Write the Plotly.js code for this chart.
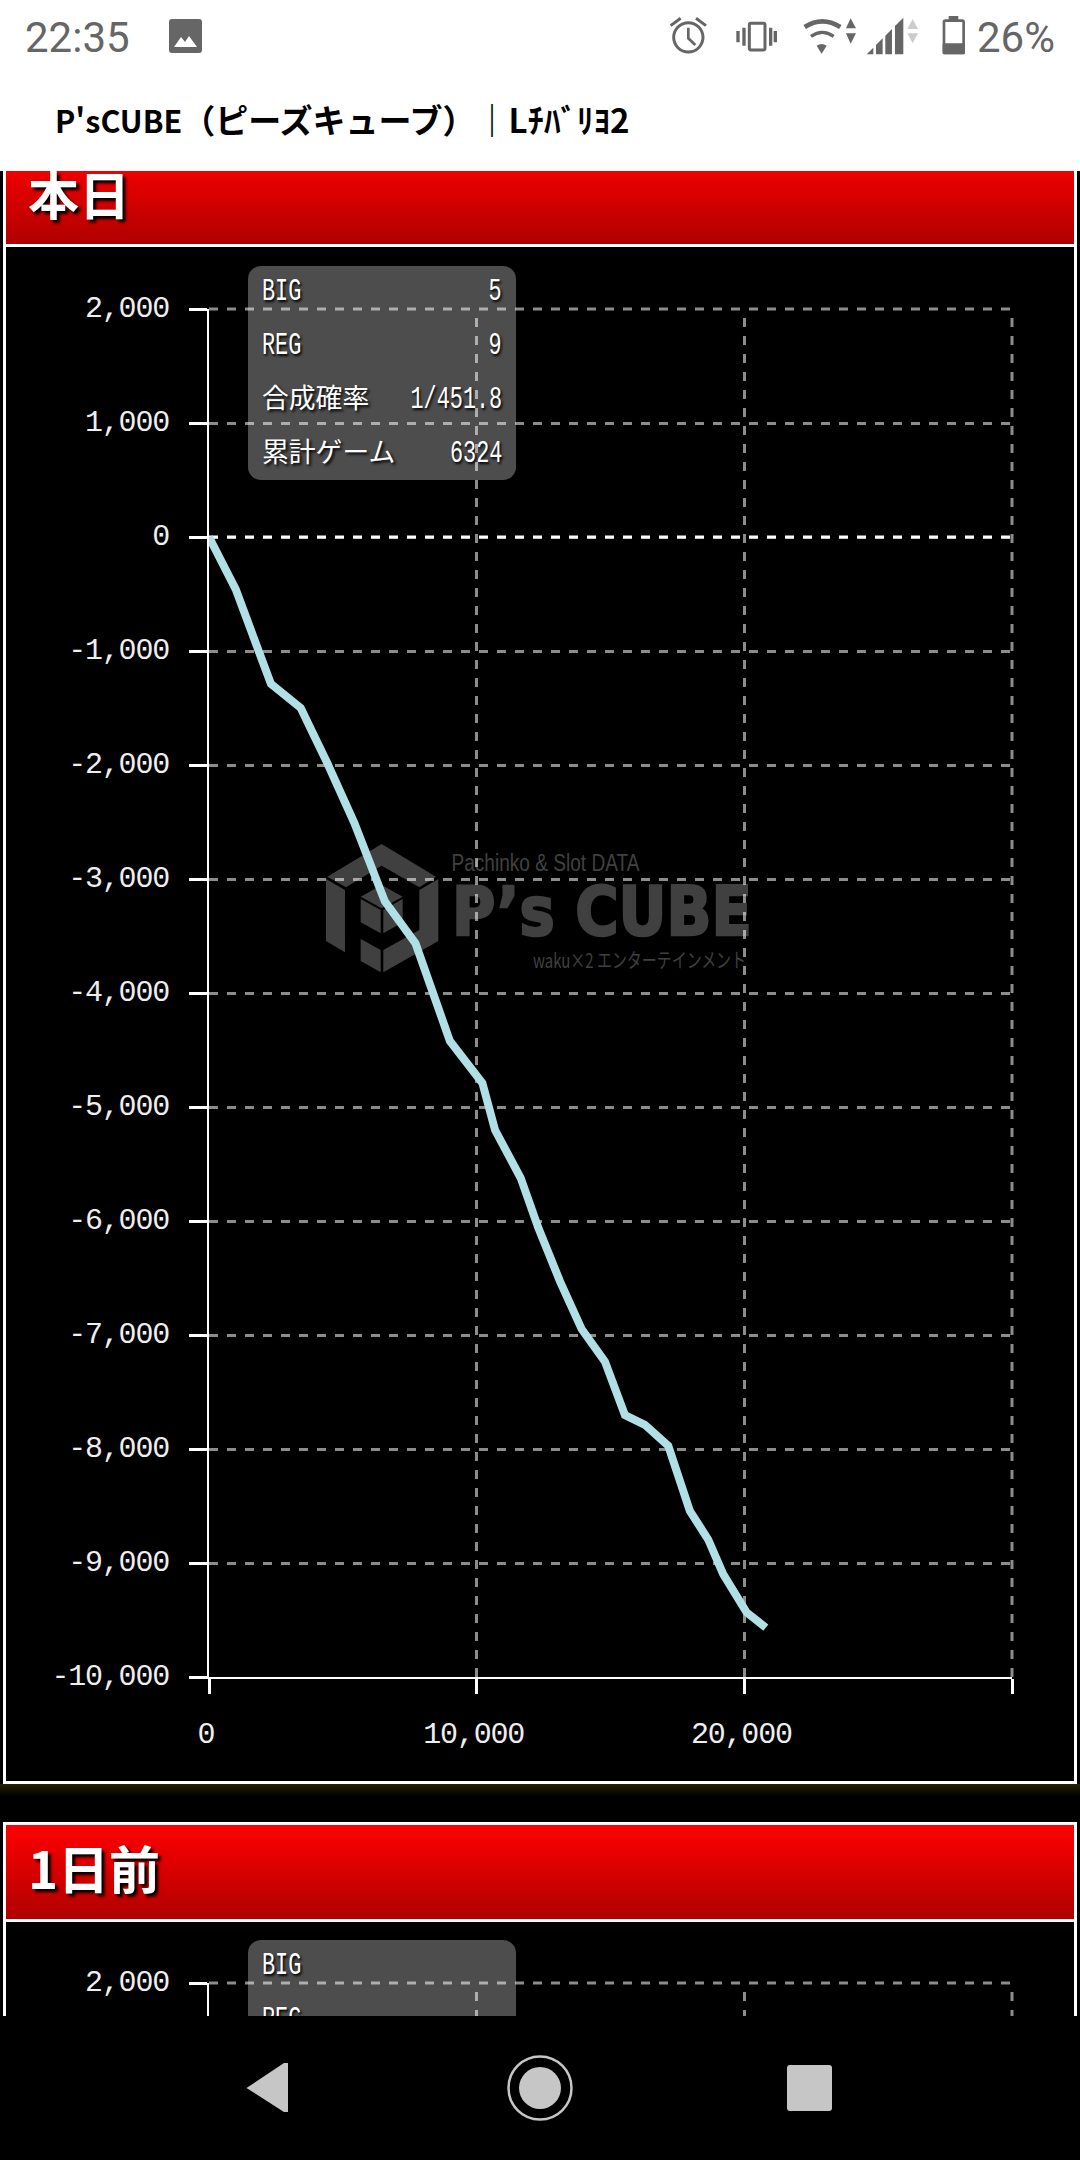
<!DOCTYPE html>
<html lang="ja">
<head>
<meta charset="utf-8">
<script src="https://cdn.plot.ly/plotly-3.0.1.min.js"></script>
<style>
html,body{margin:0;padding:0;background:#000;width:1080px;height:2160px;overflow:hidden;}
.abs{position:absolute;}
#status{left:0;top:0;width:1080px;height:171px;background:#fff;z-index:5;border-bottom:0;}
#apptitle{left:55px;top:94px;font:700 30.5px "Noto Sans CJK JP";color:#000;line-height:50px;white-space:nowrap;z-index:6;}
#apptitle .k{font-size:33px;}
.time{font-family:Roboto;font-size:42px;color:#666;line-height:48px;z-index:6;}
.hdr{left:6px;width:1068px;z-index:4;}
.hdrtxt{left:28px;color:#fff;font:700 51px "Noto Sans CJK JP";white-space:nowrap;text-shadow:3px 3px 3px #000;z-index:6;}
.wb{background:#fff;z-index:4;}
.panel{left:248px;width:268px;height:214px;background:#4d4d4d;border-radius:13px;z-index:1;}
.row{position:absolute;left:14px;right:14px;height:40px;color:#fff;text-shadow:2px 2px 3px #000;}
.lab,.val{position:absolute;top:0;line-height:40px;white-space:nowrap;}
.lab{left:0;}
.val{right:0;}
.mono{font-family:"Liberation Mono";font-size:31px;transform:scaleX(.705);top:1px;}
.lab.mono{transform-origin:left center;}
.val.mono{transform-origin:right center;}
.cjk{font-family:"Noto Sans CJK JP";font-size:26.8px;top:-2px;}
.plot{left:0;width:1080px;height:1800px;z-index:2;}
.plot .ytick text,.plot .xtick text{letter-spacing:-1.2px;}
#nav{left:0;top:2016px;width:1080px;height:144px;background:#000;z-index:7;}
#wm{left:0;top:0;z-index:1;}
#gap{left:0;top:1784px;width:1080px;height:38px;background:linear-gradient(#262200,#000 12px);z-index:3;}
</style>
</head>
<body>
<div class="abs" id="status"></div>
<div class="abs time" style="left:25px;top:14px;z-index:6">22:35</div>
<div class="abs time" style="left:977px;top:14px;z-index:6">26%</div>
<div class="abs" id="apptitle">P'sCUBE<span class="k">（ピーズキューブ）｜Lﾁﾊﾞﾘﾖ2</span></div>
<svg class="abs" style="left:0;top:0;z-index:6" width="1080" height="70">
  <rect x="169" y="19" width="33" height="34" rx="3" fill="#666"/>
  <polygon points="174,47 181,37 185,42 189,36 197,47" fill="#fff"/>
  <g transform="translate(660,5) scale(.3333)" fill="#666" stroke="none">
    <g fill="none" stroke="#666">
      <circle cx="85" cy="97" r="44" stroke-width="9"/>
      <path d="M32 62L62 40M138 62L108 40" stroke-width="9"/>
      <path d="M85 68V100L106 120" stroke-width="8"/>
      <rect x="268" y="55" width="47" height="80" rx="5" stroke-width="9"/>
      <path d="M234 78V112M252 68V122M346 78V112M332 68V122" stroke-width="10"/>
      <path d="M434 66Q487 32 541 66" stroke-width="14"/>
      <path d="M453 94Q487 70 521 94" stroke-width="10"/>
    </g>
    <path d="M470 122Q485 112 500 122L485 146Z"/>
    <polygon points="572,40 558,70 588,70"/><polygon points="558,85 588,85 572,116"/>
    <polygon points="620,148 640,128 640,148"/>
    <polygon points="648,120 668,100 668,148 648,148"/>
    <polygon points="676,92 696,72 696,148 676,148"/>
    <polygon points="705,63 730,38 730,148 705,148"/>
    <polygon points="758,42 742,72 774,72" fill="#ccc"/><polygon points="742,85 774,85 758,115" fill="#ccc"/>
    <rect x="866" y="33" width="29" height="14"/>
    <rect x="852" y="47" width="59" height="97" rx="4" fill="none" stroke="#666" stroke-width="8"/>
    <rect x="848" y="115" width="67" height="33" rx="4"/>
  </g>
</svg>

<!-- section 1 chrome -->
<div class="abs wb" style="left:3px;top:171px;width:3px;height:1613px"></div>
<div class="abs wb" style="left:1074px;top:171px;width:3px;height:1613px"></div>
<div class="abs hdr" style="top:171px;height:73px;background:linear-gradient(#ee0000,#b00000)"></div>
<div class="abs wb" style="left:3px;top:244px;width:1074px;height:3px"></div>
<div class="abs wb" style="left:3px;top:1781px;width:1074px;height:3px"></div>
<div class="abs hdrtxt" style="top:158px;line-height:70px;" id="t1">本日</div>
<div class="abs" id="gap"></div>

<!-- section 2 chrome -->
<div class="abs wb" style="left:3px;top:1822px;width:1074px;height:3px"></div>
<div class="abs wb" style="left:3px;top:1822px;width:3px;height:194px"></div>
<div class="abs wb" style="left:1074px;top:1822px;width:3px;height:194px"></div>
<div class="abs hdr" style="top:1825px;height:94px;background:linear-gradient(#ff0000,#b00000)"></div>
<div class="abs wb" style="left:3px;top:1919px;width:1074px;height:3px"></div>
<div class="abs hdrtxt" style="top:1832px;line-height:70px;" id="t2">1日前</div>

<svg class="abs" id="wm" width="1080" height="1100">
  <g transform="translate(320,835) scale(.33333)" fill="#404040">
    <polygon points="22,125 185,27 348,125 298,157 185,92 78,157"/>
    <polygon points="18,132 75,165 75,352 18,318"/>
    <polygon points="355,132 355,318 190,412 190,345 298,285 298,165"/>
    <polygon points="122,185 185,150 248,185 185,220"/>
    <polygon points="122,192 182,225 182,295 122,262"/>
    <polygon points="190,225 248,192 248,262 190,295"/>
    <polygon points="122,312 182,345 182,412 122,378"/>
  </g>
  <g fill="#404040">
    <text x="451.5" y="871" font-family="Liberation Sans" font-size="23" textLength="188" lengthAdjust="spacingAndGlyphs">Pachinko &amp; Slot DATA</text>
    <text x="452" y="934.5" font-family="DejaVu Sans" font-weight="700" font-size="67" stroke="#404040" stroke-width="2.5" textLength="300" lengthAdjust="spacingAndGlyphs">P’s CUBE</text>
    <text x="533" y="968" font-family="Noto Sans CJK JP" font-size="20" textLength="213" lengthAdjust="spacingAndGlyphs">waku×2 エンターテインメント</text>
  </g>
</svg>

<div class="abs panel" id="panel1" style="top:266px"></div>
<div class="abs panel" id="panel2" style="top:1940px"></div>
<div class="abs plot" id="chart1" style="top:0"></div>
<div class="abs plot" id="chart2" style="top:1674px"></div>

<div class="abs" id="nav"></div>
<svg class="abs" style="left:0;top:2016px;z-index:8" width="1080" height="144" fill="#c6c6c6">
  <polygon points="288,47 288,96 284,96 246.5,72 284,47" />
  <circle cx="540" cy="72" r="31.5" fill="none" stroke="#c6c6c6" stroke-width="2.5"/>
  <circle cx="540" cy="72" r="21"/>
  <rect x="787" y="49" width="45" height="46" rx="3"/>
</svg>

<script>
const gamesX = [0,1000,2314,3427,4427,5428,6570,7716,9000,10213,10687,11646,12303,13113,13923,14793,15540,16286,17157,17966,18650,19210,20083,20803];
const diffY = [0,-460,-1289,-1500,-1987,-2508,-3196,-3565,-4421,-4790,-5203,-5623,-6059,-6529,-6948,-7233,-7703,-7788,-7972,-8543,-8794,-9097,-9433,-9566];
const xTickVals = [0,10000,20000,30000];
const xTickText = ['0','10,000','20,000',''];
const yTickVals = [2000,1000,0,-1000,-2000,-3000,-4000,-5000,-6000,-7000,-8000,-9000,-10000];
const yTickText = ['2,000','1,000','0','-1,000','-2,000','-3,000','-4,000','-5,000','-6,000','-7,000','-8,000','-9,000','-10,000'];
const statLabels = ['BIG','REG','合成確率','累計ゲーム'];
const statValues = ['5','9','1/451.8','6324'];
const prevStatLabels = ['BIG','REG'];
const prevStatValues = ['',''];
const prevYTickVals = [2000];
const prevYTickText = ['2,000'];

function fillPanel(id, labels, values){
  const p = document.getElementById(id);
  labels.forEach((l,i)=>{
    const r = document.createElement('div'); r.className='row'; r.style.top=(5+54*i)+'px';
    const a = document.createElement('span'); a.className='lab '+(/^[A-Z]+$/.test(l)?'mono':'cjk'); a.textContent=l;
    const b = document.createElement('span'); b.className='val mono'; b.textContent=values[i];
    r.appendChild(a); r.appendChild(b); p.appendChild(r);
  });
}
fillPanel('panel1',statLabels,statValues);
fillPanel('panel2',prevStatLabels,prevStatValues);

const GRID='rgba(255,255,255,0.55)';
const DASH_H='9px,9px', DASH_V='0px,9px,9px,0px';
const tickFont={family:'"Liberation Mono"',size:30,color:'#eeeeee'};
function makeLayout(yVals,yText,showXLabels){
  return {
    width:1080,height:1800,
    margin:{l:209,r:68,t:309,b:123,pad:0},
    paper_bgcolor:'rgba(0,0,0,0)',plot_bgcolor:'rgba(0,0,0,0)',
    showlegend:false,
    xaxis:{range:[0,30000],tickmode:'array',tickvals:xTickVals,ticktext:xTickText,showticklabels:showXLabels,
      showline:true,linecolor:'#fff',linewidth:2,ticks:'outside',ticklen:15,tickwidth:3,tickcolor:'#fff',
      showgrid:true,gridcolor:GRID,gridwidth:3,griddash:DASH_V,zeroline:false,tickfont:tickFont,tickangle:0,ticklabelstandoff:13},
    yaxis:{range:[-10000,2000],tickmode:'array',tickvals:yVals,ticktext:yText,
      showline:true,linecolor:'#fff',linewidth:2,ticks:'outside',ticklen:18,tickwidth:3,tickcolor:'#fff',
      showgrid:true,gridcolor:GRID,gridwidth:3,griddash:DASH_H,zeroline:false,tickfont:tickFont,ticklabelstandoff:14},
    shapes:[
      {type:'line',xref:'x',yref:'y',x0:0,x1:30000,y0:0,y1:0,layer:'below',line:{color:'#fff',width:3,dash:DASH_H}},
      {type:'line',xref:'paper',yref:'paper',x0:0,x1:1,y0:1,y1:1,layer:'below',line:{color:GRID,width:3,dash:DASH_H}},
      {type:'line',xref:'paper',yref:'paper',x0:1,x1:1,y0:1,y1:0,layer:'below',line:{color:GRID,width:3,dash:DASH_V}}
    ]
  };
}
const cfg={staticPlot:true,displayModeBar:false};
Plotly.newPlot('chart1',[{type:'scatter',mode:'lines',x:gamesX,y:diffY,line:{color:'#B0E0E6',width:8,shape:'linear'},hoverinfo:'skip'}],makeLayout(yTickVals,yTickText,true),cfg);
Plotly.newPlot('chart2',[{type:'scatter',mode:'lines',x:[],y:[],line:{color:'#B0E0E6',width:8},hoverinfo:'skip'}],makeLayout(prevYTickVals,prevYTickText,false),cfg);
document.querySelectorAll('.ytick text').forEach(t=>t.setAttribute('y',(+t.getAttribute('y')||0)-3));
document.querySelectorAll('.xtick text').forEach(t=>t.setAttribute('x',(+t.getAttribute('x')||0)-3));
</script>
</body>
</html>
